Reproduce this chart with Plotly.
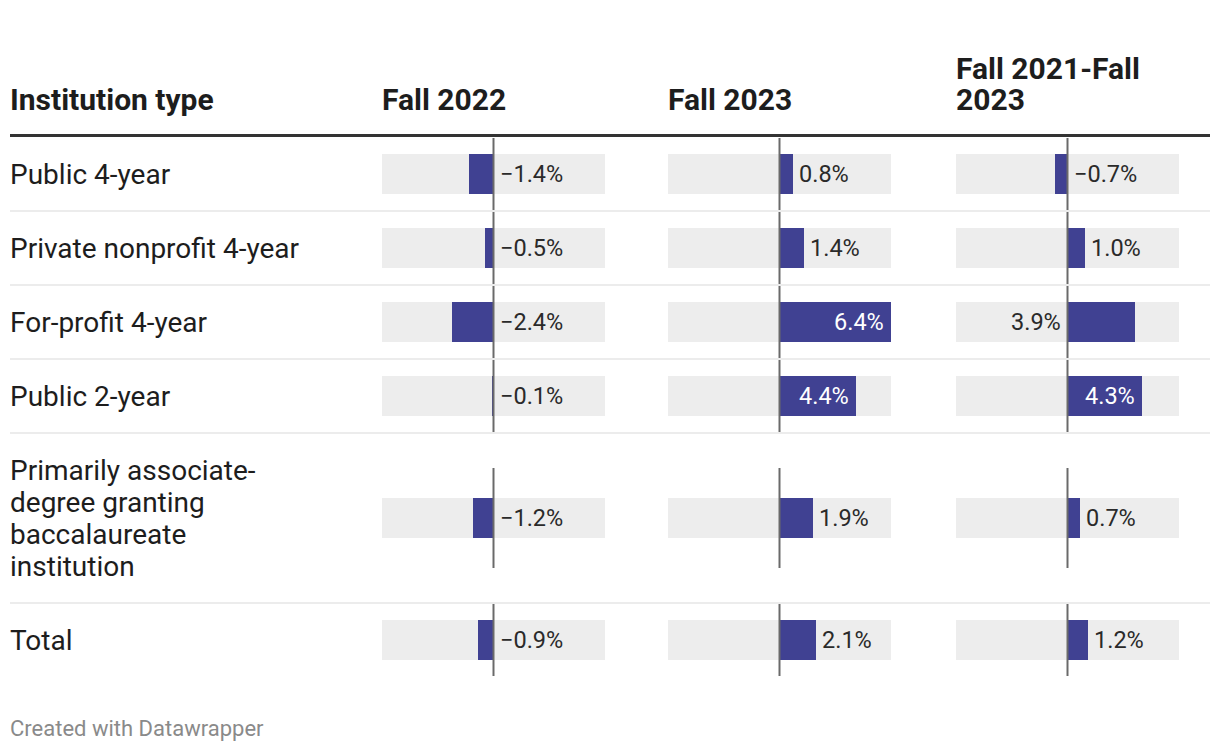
import plotly.graph_objects as go

# ---------------- data ----------------
categories = [
    "Public 4-year",
    "Private nonprofit 4-year",
    "For-profit 4-year",
    "Public 2-year",
    "Primarily associate-<br>degree granting<br>baccalaureate<br>institution",
    "Total",
]
fall_2022 = [-1.4, -0.5, -2.4, -0.1, -1.2, -0.9]
fall_2023 = [0.8, 1.4, 6.4, 4.4, 1.9, 2.1]
fall_2021_2023 = [-0.7, 1.0, 3.9, 4.3, 0.7, 1.2]
first_header = "Institution type"
column_headers = ["Fall 2022", "Fall 2023", "Fall 2021-Fall<br>2023"]
footer = "Created with Datawrapper"

# ---------------- styling / layout ----------------
W, H = 1220, 752
FONT = "Roboto"
BAR_COLOR = "#404192"
BG_COLOR = "#ededed"
TEXT = "#1d1d1d"
VAL_TEXT = "#2a2a2a"
ZERO_COLOR = "#6a6a6a"
SEP_COLOR = "#ececec"
RMAX = 6.4
col_left = [382, 668, 956]
col_w = 223
table_left, table_right = 10, 1210
text_left = 8.5
header_line_y = 135.5
first_row_top = 137
line_h = 32
row_pad = 42
bar_h = 40
label_fs, val_fs, head_fs, foot_fs = 28, 23.5, 30, 22
px_per = col_w / (2 * RMAX)

series = [fall_2022, fall_2023, fall_2021_2023]

# row geometry
row_tops, row_centers, row_hs = [], [], []
y = first_row_top
for c in categories:
    n = c.count("<br>") + 1
    h = max(74, n * line_h + row_pad)
    row_tops.append(y)
    row_hs.append(h)
    row_centers.append(y + h / 2)
    y += h
table_bottom = y

fig = go.Figure()
xnames = ["x", "x2", "x3"]
for i, vals in enumerate(series):
    xa = xnames[i]
    fig.add_trace(go.Bar(
        x=[2 * RMAX] * len(vals), base=[-RMAX] * len(vals), y=row_centers,
        orientation="h", width=bar_h, marker=dict(color=BG_COLOR, line=dict(width=0)),
        xaxis=xa, yaxis="y", hoverinfo="skip", showlegend=False))
    fig.add_trace(go.Bar(
        x=vals, base=[0] * len(vals), y=row_centers,
        orientation="h", width=bar_h, marker=dict(color=BAR_COLOR, line=dict(width=0)),
        xaxis=xa, yaxis="y", showlegend=False))

layout_axes = {}
for i in range(3):
    key = "xaxis" if i == 0 else f"xaxis{i+1}"
    layout_axes[key] = dict(
        domain=[col_left[i] / W, (col_left[i] + col_w) / W], range=[-RMAX, RMAX],
        visible=False, fixedrange=True, anchor="y")

shapes = []
annotations = []

# header line
shapes.append(dict(type="line", xref="paper", yref="y", x0=table_left / W, x1=table_right / W,
                   y0=header_line_y, y1=header_line_y, line=dict(color="#333333", width=3)))
# row separators
for k in range(1, len(categories)):
    yy = row_tops[k]
    shapes.append(dict(type="line", xref="paper", yref="y", x0=table_left / W, x1=table_right / W,
                       y0=yy, y1=yy, line=dict(color=SEP_COLOR, width=2), layer="below"))
# zero lines
for i in range(3):
    for k in range(len(categories)):
        half = min(row_hs[k] / 2 - 1, 50)
        shapes.append(dict(type="line", xref=xnames[i], yref="y", x0=0, x1=0,
                           y0=row_centers[k] - half, y1=row_centers[k] + half,
                           line=dict(color=ZERO_COLOR, width=2)))


def multiline(text, x, yc, fs, bold=False, color=TEXT, lh=line_h, anchor_last=False):
    lines = text.split("<br>")
    n = len(lines)
    for j, ln in enumerate(lines):
        if anchor_last:
            yy = yc - (n - 1 - j) * lh
        else:
            yy = yc + (j - (n - 1) / 2) * lh
        ann = dict(
            text=f"<b>{ln}</b>" if bold else ln, xref="paper", yref="y", x=x / W, y=yy,
            xanchor="left", yanchor="middle", showarrow=False, borderpad=0,
            font=dict(family=FONT, size=fs, color=color))
        if n > 1:
            ann["height"] = lh - 1
        annotations.append(ann)


# headers
multiline(first_header, text_left, 99, head_fs, bold=True, lh=31, anchor_last=True)
for i, h in enumerate(column_headers):
    multiline(h, col_left[i] - 1.5, 99, head_fs, bold=True, lh=31, anchor_last=True)

# row labels
for k, c in enumerate(categories):
    multiline(c, text_left, row_centers[k], label_fs)


def fmt(v):
    s = f"{abs(v):.1f}%"
    return ("\u2212" + s) if v < 0 else s


# value labels
char_w = 12.5
for i, vals in enumerate(series):
    for k, v in enumerate(vals):
        t = fmt(v)
        tw = len(t) * char_w
        if v < 0:
            x, xanc, sh, col = 0, "left", 5, VAL_TEXT
        else:
            space_right = (RMAX - v) * px_per
            bar_px = v * px_per
            if space_right >= tw + 12:
                x, xanc, sh, col = v, "left", 5, VAL_TEXT
            elif bar_px >= tw + 20:
                x, xanc, sh, col = v, "right", -6, "white"
            else:
                x, xanc, sh, col = 0, "right", -6, VAL_TEXT
        annotations.append(dict(
            text=t, xref=xnames[i], yref="y", x=x, y=row_centers[k], xshift=sh,
            xanchor=xanc, yanchor="middle", showarrow=False, borderpad=0,
            font=dict(family=FONT, size=val_fs, color=col)))

# footer
annotations.append(dict(text=footer, xref="paper", yref="y", x=text_left / W, y=728,
                        xanchor="left", yanchor="middle", showarrow=False, borderpad=0,
                        font=dict(family=FONT, size=foot_fs, color="#8a8a8a")))

fig.update_layout(
    width=W, height=H, margin=dict(l=0, r=0, t=0, b=0),
    paper_bgcolor="white", plot_bgcolor="white",
    yaxis=dict(range=[H, 0], domain=[0, 1], visible=False, fixedrange=True),
    barmode="overlay", bargap=0,
    shapes=shapes, annotations=annotations,
    font=dict(family=FONT),
    **layout_axes,
)

fig.write_html("out.html", config={"displayModeBar": False},
               post_script="document.body.style.margin='0';document.body.style.overflow='hidden';")
